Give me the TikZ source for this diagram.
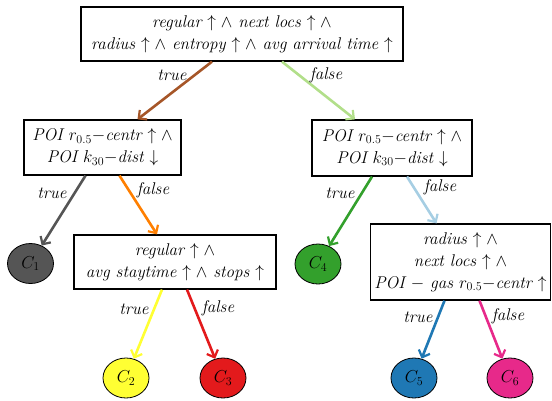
\documentclass[tikz,border=0pt]{standalone}
\usetikzlibrary{arrows.meta,shapes.geometric}
\definecolor{cbrown}{HTML}{A65628}
\definecolor{clgreen}{HTML}{B2DF8A}
\definecolor{cgray}{HTML}{555555}
\definecolor{corange}{HTML}{FF7F00}
\definecolor{cgreen}{HTML}{33A02C}
\definecolor{clblue}{HTML}{A6CEE3}
\definecolor{cyellow}{HTML}{FFFF33}
\definecolor{cred}{HTML}{E31A1C}
\definecolor{cblue}{HTML}{1F78B4}
\definecolor{cpink}{HTML}{E7298A}
\tikzset{
  testbox/.style={draw, line width=1.3pt, align=center, inner sep=0pt, font=\fontsize{17}{22}\selectfont\itshape},
  leaf/.style={draw, ellipse, line width=0.8pt, minimum width=46pt, minimum height=40pt, inner sep=0pt, font=\fontsize{18}{20}\selectfont},
  edge/.style={line width=2.6pt, -{Straight Barb[length=6pt,width=12pt,line width=2.2pt]}},
  lbl/.style={font=\fontsize{17}{20}\selectfont\itshape}
}
\begin{document}
\begin{tikzpicture}[x=1pt,y=-1pt]
\useasboundingbox (0,0) rectangle (552,400);
\node[testbox, minimum width=322pt, minimum height=54pt] (top) at (242,34)
  {regular $\uparrow\wedge$ next locs $\uparrow\wedge$\\ radius $\uparrow\wedge$ entropy $\uparrow\wedge$ avg arrival time $\uparrow$};
\node[testbox, minimum width=157pt, minimum height=55pt] (L) at (102.5,147.5)
  {POI $r_{0.5}{-}$centr $\uparrow\wedge$\\ POI $k_{30}{-}$dist $\downarrow$};
\node[testbox, minimum width=160pt, minimum height=56pt] (R) at (392,148)
  {POI $r_{0.5}{-}$centr $\uparrow\wedge$\\ POI $k_{30}{-}$dist $\downarrow$};
\node[testbox, minimum width=202pt, minimum height=54pt] (M) at (175,262)
  {regular $\uparrow\wedge$\\ avg staytime $\uparrow\wedge$ stops $\uparrow$};
\node[testbox, minimum width=180pt, minimum height=76pt] (BR) at (460.5,262)
  {radius $\uparrow\wedge$\\ next locs $\uparrow\wedge$\\ POI $-$ gas $r_{0.5}{-}$centr $\uparrow$};
\node[leaf, fill=cgray] (C1) at (30.5,263.5) {$C_1$};
\node[leaf, fill=cgreen] (C4) at (318,264) {$C_4$};
\node[leaf, fill=cyellow] (C2) at (126,378) {$C_2$};
\node[leaf, fill=cred] (C3) at (223,378) {$C_3$};
\node[leaf, fill=cblue] (C5) at (414,378) {$C_5$};
\node[leaf, fill=cpink] (C6) at (510,378) {$C_6$};
\draw[edge, cbrown] ([xshift=-30pt]top.south) -- ([xshift=35pt]L.north);
\draw[edge, clgreen] ([xshift=40pt]top.south) -- ([xshift=-37pt]R.north);
\draw[edge, cgray] ([xshift=-17pt]L.south) -- (C1);
\draw[edge, corange] ([xshift=17pt]L.south) -- ([xshift=-18pt]M.north);
\draw[edge, cgreen] ([xshift=-20pt]R.south) -- (C4);
\draw[edge, clblue] ([xshift=15pt]R.south) -- ([xshift=-24pt]BR.north);
\draw[edge, cyellow] ([xshift=-13pt]M.south) -- (C2);
\draw[edge, cred] ([xshift=12pt]M.south) -- (C3);
\draw[edge, cblue] ([xshift=-16pt]BR.south) -- (C5);
\draw[edge, cpink] ([xshift=19pt]BR.south) -- (C6);
\node[lbl] (t1) at (172,75) {true};
\node[lbl] (f1) at (326,75) {false};
\node[lbl] (t2) at (52,193) {true};
\node[lbl] (f2) at (153,190) {false};
\node[lbl] (t3) at (340,193) {true};
\node[lbl] (f3) at (440,187) {false};
\node[lbl] (t4) at (134,309) {true};
\node[lbl] (f4) at (218,308) {false};
\node[lbl] (t5) at (418,317) {true};
\node[lbl] (f5) at (508,316) {false};
\end{tikzpicture}
\end{document}
